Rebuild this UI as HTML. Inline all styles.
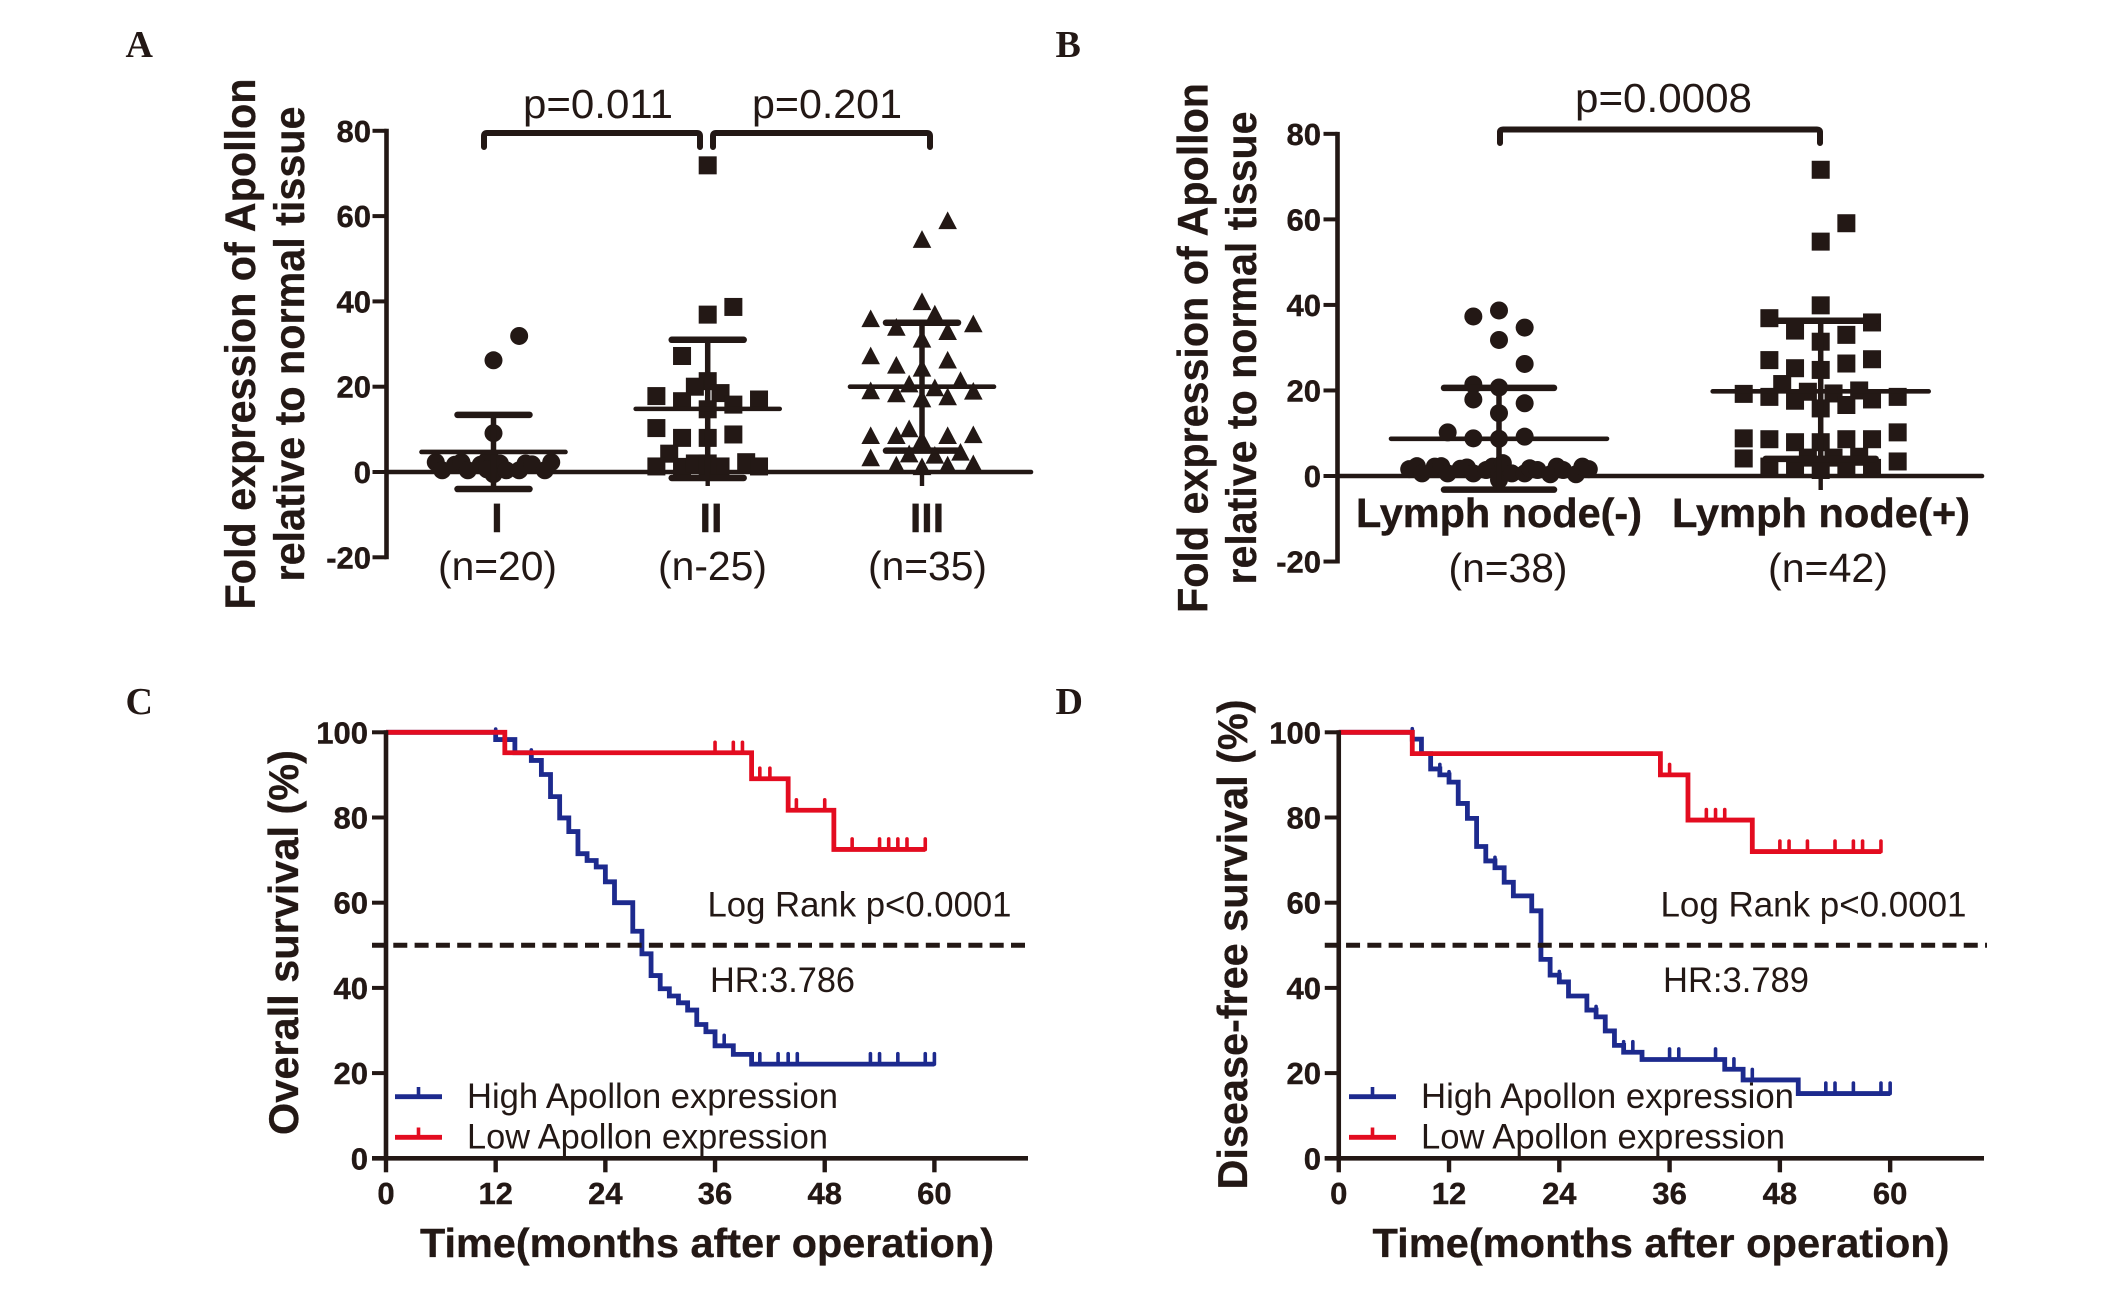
<!DOCTYPE html>
<html lang="en">
<head>
<meta charset="utf-8">
<title>Apollon expression and survival</title>
<style>
  html, body { margin: 0; padding: 0; background: #fff; }
  svg { display: block; }
  text { font-family: "Liberation Sans", Arial, sans-serif; fill: #231815; }
  .letter { font-family: "Liberation Serif", "Times New Roman", serif; font-weight: 700; font-size: 38px; }
  .title { font-weight: 700; font-size: 43px; text-anchor: middle; stroke: #231815; stroke-width: 0.3; }
  .reg { font-size: 41px; }
  .note { font-size: 35px; }
  .cat { font-weight: 700; font-size: 41px; text-anchor: middle; stroke: #231815; stroke-width: 0.4; }
  .tick { font-weight: 700; font-size: 31px; stroke: #231815; stroke-width: 0.4; }
  .bracket { fill: none; stroke: #231815; stroke-width: 6; stroke-linecap: round; stroke-linejoin: round; }
</style>
</head>
<body>
<svg id="figure" xmlns="http://www.w3.org/2000/svg" width="2126" height="1302" viewBox="0 0 2126 1302">
  <rect width="2126" height="1302" fill="#fff"/>

  <g id="panel-a">
    <text class="letter" x="125.500" y="57">A</text>
    <text class="title" transform="translate(255,344) rotate(-90)" textLength="531" lengthAdjust="spacingAndGlyphs">Fold expression of Apollon</text>
    <text class="title" transform="translate(304,344) rotate(-90)" textLength="475" lengthAdjust="spacingAndGlyphs">relative to normal tissue</text>
    <path class="bracket" d="M484,147 V136 Q484,133 487,133 H697 Q700,133 700,136 V147"/>
    <path class="bracket" d="M713,147 V136 Q713,133 716,133 H927 Q930,133 930,136 V147"/>
    <text class="reg" x="523" y="118" textLength="150" lengthAdjust="spacingAndGlyphs">p=0.011</text>
    <text class="reg" x="752" y="118" textLength="150" lengthAdjust="spacingAndGlyphs">p=0.201</text>
    <text class="cat" x="497" y="532">I</text>
    <text class="cat" x="711" y="532">II</text>
    <text class="cat" x="927" y="532">III</text>
    <text class="reg" x="438" y="580" textLength="119" lengthAdjust="spacingAndGlyphs">(n=20)</text>
    <text class="reg" x="658" y="580" textLength="109" lengthAdjust="spacingAndGlyphs">(n-25)</text>
    <text class="reg" x="868" y="580" textLength="119" lengthAdjust="spacingAndGlyphs">(n=35)</text>
  </g>

  <g id="panel-b">
    <text class="letter" x="1055.500" y="57">B</text>
    <text class="title" transform="translate(1207.5,348) rotate(-90)" textLength="530" lengthAdjust="spacingAndGlyphs">Fold expression of Apollon</text>
    <text class="title" transform="translate(1256,348) rotate(-90)" textLength="473" lengthAdjust="spacingAndGlyphs">relative to normal tissue</text>
    <path class="bracket" d="M1500,143 V132 Q1500,129.500 1503,129.500 H1817 Q1820,129.500 1820,132 V143"/>
    <text class="reg" x="1575" y="112" textLength="177" lengthAdjust="spacingAndGlyphs">p=0.0008</text>
    <text class="cat" style="text-anchor:start" x="1356" y="527" textLength="286" lengthAdjust="spacingAndGlyphs">Lymph node(-)</text>
    <text class="cat" style="text-anchor:start" x="1672" y="527" textLength="298" lengthAdjust="spacingAndGlyphs">Lymph node(+)</text>
    <text class="reg" x="1448.500" y="582" textLength="119" lengthAdjust="spacingAndGlyphs">(n=38)</text>
    <text class="reg" x="1768" y="582" textLength="120" lengthAdjust="spacingAndGlyphs">(n=42)</text>
  </g>

  <g id="panel-c">
    <text class="letter" x="125.500" y="714">C</text>
    <text class="title" style="font-size:42px" transform="translate(298,942.500) rotate(-90)" textLength="385" lengthAdjust="spacingAndGlyphs">Overall survival (%)</text>
    <text class="title" style="font-size:41px;text-anchor:start" x="420" y="1257" textLength="574" lengthAdjust="spacingAndGlyphs">Time(months after operation)</text>
  </g>

  <g id="panel-d">
    <text class="letter" x="1055.500" y="714">D</text>
    <text class="title" style="font-size:42px" transform="translate(1247,944.500) rotate(-90)" textLength="490" lengthAdjust="spacingAndGlyphs">Disease-free survival (%)</text>
    <text class="title" style="font-size:41px;text-anchor:start" x="1372.500" y="1257" textLength="577" lengthAdjust="spacingAndGlyphs">Time(months after operation)</text>
  </g>
</svg>

<script>
/* ---------- Panel A data (fold expression by stage) ---------- */
const stageTickLabels = [-20, 0, 20, 40, 60, 80];
const stageISlots = [2, 0, 0, -4.5, -4, -3, -2.5, -2, -1, -0.5, 0, 0, 0.5, 1, 2, 2.5, 3, 4, 4.5, -0.5];
const stageIValues = [31.9, 26.2, 9.1, 2.3, 0.4, 1.7, 2.3, 0.4, 1.7, 2.7, 2.4, -0.5, 2, 0.4, 0.4, 2, 1.8, 0.4, 2.3, 0.6];
const stageIISlots = [0, 2, 0, -2, 0, -1, 1, -4, -2, 4, 2, 0, -4, 2, -2, 0, -3, -4, -2, -1, 0, 1, 3, 4, 0];
const stageIIValues = [71.9, 38.7, 36.9, 27.2, 21.3, 20, 18.5, 17.8, 16.6, 17, 15.8, 14.7, 10.3, 8.8, 8, 8, 4.3, 1.3, 1.2, 2, 2, 1.3, 2.3, 1.3, 0];
const stageIIISlots = [2, 0, 0, 1, -4, 4, -2, 2, 0, -4, 2, -2, 0, 3, -1, 1, -4, 4, -2, 2, 0, -1, -4, -2, 2, 4, 0, 3, -1, 1, -4, -2, 0, 2, 4];
const stageIIIValues = [59, 54.6, 40, 37.1, 36, 34.8, 34, 33, 31.2, 27.3, 26.3, 25.1, 24.4, 21.5, 20.7, 19.8, 19.1, 19, 18.4, 17.7, 17.2, 10.2, 8.6, 8.6, 8.6, 8.8, 7.6, 4.7, 4.3, 4, 3.4, 1.7, 1.3, 1.7, 2];
const stageMeans = [4.7, 14.8, 20];
const stageUpper = [13.4, 31, 35];
const stageLower = [-4, -1.4, 5];

/* ---------- Panel B data (fold expression by lymph node status) ---------- */
const nodeTickLabels = [-20, 0, 20, 40, 60, 80];
const nodeNegSlots = [0, -2, 2, 0, 2, -2, 0, -2, 2, 0, -4, -2, 0, 2, -7, -6.4, -6, -5, -4.5, -4, -3, -2.5, -2, -1, -0.5, 0, 0.3, 0, 1, 2, 2.4, 3, 4, 4.5, 5, 6, 6.5, 7];
const nodeNegValues = [38.7, 37.3, 34.7, 31.8, 26.2, 21.4, 20.7, 17.9, 17, 14.7, 10.2, 8.8, 8.7, 9.2, 1.6, 2.3, 0.6, 2.2, 2.3, 0.6, 1.7, 2, 0.6, 1.4, 2.2, 0.6, 3, -0.9, 0.6, 0.6, 1.8, 1.4, 0.4, 2.2, 1.4, 0.4, 2.2, 1.6];
const nodePosSlots = [0, 2, 0, 0, -4, 4, -2, 2, 0, -4, 4, 2, -2, 0, -3, 3, -6, -1, 1, -4, 6, -2, 4, 2, 0, 6, -6, -4, 2, 4, 0, -2, 3, -1, 1, -6, 6, -4, -2, 0, 2, 4];
const nodePosValues = [71.6, 59.1, 54.8, 39.9, 36.9, 35.9, 34, 33, 31.4, 27.1, 27.3, 26.3, 25.2, 24.8, 21.5, 20, 19.2, 19.7, 19.3, 18.5, 18.5, 17.6, 17.9, 16.6, 15.8, 10.2, 8.8, 8.6, 8.6, 8.6, 7.9, 7.9, 4.5, 4.3, 4.3, 4.1, 3.4, 2.2, 1.9, 1.4, 1.9, 1.9];
const nodeMeans = [8.7, 19.8];
const nodeUpper = [20.6, 36.3];
const nodeLower = [-3.2, 4];

/* ---------- Survival axes ---------- */
const survivalYTicks = [0, 20, 40, 60, 80, 100];
const survivalXTicks = [0, 12, 24, 36, 48, 60];

/* ---------- Panel C data (overall survival) ---------- */
const osHighTimes = [0, 12, 14.1, 15.9, 17, 18, 19, 20, 21, 22, 23, 24, 25, 27, 28, 29, 30, 31, 32, 33, 34, 35, 36, 38, 40];
const osHighSurvival = [100, 98.3, 95.2, 93.4, 90.1, 84.9, 79.9, 76.7, 71.5, 69.9, 68.4, 64.9, 60, 53.3, 48, 42.9, 39.8, 38.1, 36.5, 34.8, 31.4, 29.7, 26.4, 24.4, 22.1];
const osHighEnd = 60;
const osHighCensored = [12, 15.9, 37, 40, 40.9, 42.9, 44, 45, 53, 54, 56, 59, 60];
const osLowTimes = [0, 13, 40, 44, 49];
const osLowSurvival = [100, 95.2, 89.1, 81.7, 72.5];
const osLowEnd = 59;
const osLowCensored = [36, 38, 39, 40.9, 42, 44.9, 48, 51, 54, 55, 56, 57, 59];

/* ---------- Panel D data (disease-free survival) ---------- */
const dfsHighTimes = [0, 8, 9, 10, 11, 12, 13, 14, 15, 16, 17, 18, 19, 21, 22, 23, 24, 25, 27, 28, 29, 30, 31, 33, 42, 44, 50];
const dfsHighSurvival = [100, 98.4, 95, 91.4, 90, 88.3, 83.3, 79.8, 73.2, 69.8, 68.2, 64.8, 61.6, 58.1, 46.7, 43, 41.4, 38.1, 34.8, 33.2, 29.9, 26.5, 24.9, 23.2, 20.9, 18.4, 15.2];
const dfsHighEnd = 60;
const dfsHighCensored = [8, 9, 10, 11, 12, 17, 24, 28, 31, 32, 36, 37, 41, 43, 45, 53, 54, 56, 59, 60];
const dfsLowTimes = [0, 8, 35, 38, 45];
const dfsLowSurvival = [100, 95, 90, 79.4, 72];
const dfsLowEnd = 59;
const dfsLowCensored = [36, 40, 41, 42, 48, 49, 51, 54, 56, 57, 59];

const INK = '#231815';
const BLUE = '#1d2a8e';
const RED = '#e30c20';
const SVGNS = 'http://www.w3.org/2000/svg';

function mk(tag, attrs, parent, text) {
  const node = document.createElementNS(SVGNS, tag);
  for (const key in attrs) node.setAttribute(key, attrs[key]);
  if (text !== undefined) node.textContent = text;
  parent.appendChild(node);
  return node;
}

function yAxis(group, tickValues, scale, xAxisPos, labelRight) {
  const axis = mk('line', { x1: xAxisPos, x2: xAxisPos, y1: scale(tickValues[0]) + 2, y2: scale(tickValues[tickValues.length - 1]) - 2, stroke: INK, 'stroke-width': 4.6 }, group);
  
  
  tickValues.forEach(function (v) {
    const tick = mk('line', { x1: xAxisPos - 14, x2: xAxisPos, y1: scale(v), y2: scale(v), stroke: INK, 'stroke-width': 4 }, group);
    
    
    const label = mk('text', { class: 'tick', x: labelRight, y: scale(v) + 11, 'text-anchor': 'end' }, group, String(v));
    
    
  });
}

function drawCircle(group, cx, cy) {
  return mk('circle', { cx: cx, cy: cy, r: 9, fill: INK }, group);
}
function drawSquare(group, cx, cy) {
  return mk('rect', { x: cx - 9, y: cy - 9, width: 18, height: 18, fill: INK }, group);
}
function drawTriangle(group, cx, cy) {
  return mk('polygon', { points: (cx - 9.3) + ',' + (cy + 8.7) + ' ' + (cx + 9.3) + ',' + (cy + 8.7) + ' ' + cx + ',' + (cy - 9) , fill: INK }, group);
}

function scatterGroup(group, scale, cx, slots, values, shape, name, mean, upper, lower, meanHalf, capHalf) {
  values.forEach(function (v, i) {
    const mark = shape(group, cx + slots[i] * 12.83, scale(v));
    
    
  });
  const whisker = mk('line', { x1: cx, x2: cx, y1: scale(upper), y2: scale(lower), stroke: INK, 'stroke-width': 5.5 }, group);
  
  
  const capTop = mk('line', { x1: cx - capHalf, x2: cx + capHalf, y1: scale(upper), y2: scale(upper), stroke: INK, 'stroke-width': 6.5, 'stroke-linecap': 'round' }, group);
  
  
  const capBottom = mk('line', { x1: cx - capHalf, x2: cx + capHalf, y1: scale(lower), y2: scale(lower), stroke: INK, 'stroke-width': 6.5, 'stroke-linecap': 'round' }, group);
  
  
  const meanLine = mk('line', { x1: cx - meanHalf, x2: cx + meanHalf, y1: scale(mean), y2: scale(mean), stroke: INK, 'stroke-width': 4.6, 'stroke-linecap': 'round' }, group);
  
  
  const tick = mk('line', { x1: cx, x2: cx, y1: scale(0), y2: scale(0) + 14, stroke: INK, 'stroke-width': 4.4 }, group);
  
  
}

/* Panel A */
const panelA = document.getElementById('panel-a');
const yA = function (v) { return 472 - v * 4.265; };
yAxis(panelA, stageTickLabels, yA, 386.5, 371);
const baselineA = mk('line', { x1: 386, x2: 1031, y1: yA(0), y2: yA(0), stroke: INK, 'stroke-width': 4.6, 'stroke-linecap': 'round' }, panelA);


scatterGroup(panelA, yA, 493.5, stageISlots, stageIValues, drawCircle, 'stage-i', stageMeans[0], stageUpper[0], stageLower[0], 72, 36);
scatterGroup(panelA, yA, 707.7, stageIISlots, stageIIValues, drawSquare, 'stage-ii', stageMeans[1], stageUpper[1], stageLower[1], 72, 36);
scatterGroup(panelA, yA, 922, stageIIISlots, stageIIIValues, drawTriangle, 'stage-iii', stageMeans[2], stageUpper[2], stageLower[2], 72, 36);

/* Panel B */
const panelB = document.getElementById('panel-b');
const yB = function (v) { return 476 - v * 4.277; };
yAxis(panelB, nodeTickLabels, yB, 1337.5, 1321);
const baselineB = mk('line', { x1: 1337, x2: 1982, y1: yB(0), y2: yB(0), stroke: INK, 'stroke-width': 4.6, 'stroke-linecap': 'round' }, panelB);


scatterGroup(panelB, yB, 1499, nodeNegSlots, nodeNegValues, drawCircle, 'lymph-node-negative', nodeMeans[0], nodeUpper[0], nodeLower[0], 108, 55);
scatterGroup(panelB, yB, 1820.7, nodePosSlots, nodePosValues, drawSquare, 'lymph-node-positive', nodeMeans[1], nodeUpper[1], nodeLower[1], 108, 55);

/* Survival panels */
function stepPath(xs, ys, times, surv, end) {
  let d = 'M' + xs(times[0]) + ',' + ys(surv[0]);
  for (let i = 1; i < times.length; i++) {
    d += ' H' + xs(times[i]) + ' V' + ys(surv[i]);
  }
  return d + ' H' + xs(end);
}
function survivalAt(times, surv, t) {
  let s = surv[0];
  for (let i = 0; i < times.length; i++) { if (times[i] <= t) s = surv[i]; }
  return s;
}
function drawCurve(group, xs, ys, times, surv, end, censored, color, name) {
  const curve = mk('path', { d: stepPath(xs, ys, times, surv, end), fill: 'none', stroke: color, 'stroke-width': 4.8, 'stroke-linejoin': 'miter' }, group);
  
  
  censored.forEach(function (t) {
    const y = ys(survivalAt(times, surv, t));
    const mark = mk('line', { x1: xs(t), x2: xs(t), y1: y, y2: y - 10.5, stroke: color, 'stroke-width': 3.6, 'stroke-linecap': 'round' }, group);
    
    
  });
}

function survivalPanel(group, x0, pxPerMonth, xEnd, labelRight, cfg) {
  const xs = function (t) { return x0 + t * pxPerMonth; };
  const ys = function (s) { return 1158.3 - s * 4.26; };

  drawCurve(group, xs, ys, cfg.highTimes, cfg.highSurv, cfg.highEnd, cfg.highCens, BLUE, 'high-apollon');
  drawCurve(group, xs, ys, cfg.lowTimes, cfg.lowSurv, cfg.lowEnd, cfg.lowCens, RED, 'low-apollon');

  yAxis(group, survivalYTicks, ys, x0, labelRight);
  const xLine = mk('line', { x1: x0 - 14, x2: xEnd, y1: ys(0), y2: ys(0), stroke: INK, 'stroke-width': 4.6 }, group);
  
  
  survivalXTicks.forEach(function (t) {
    const tick = mk('line', { x1: xs(t), x2: xs(t), y1: ys(0), y2: ys(0) + 14, stroke: INK, 'stroke-width': 4.4 }, group);
    
    
    const label = mk('text', { class: 'tick', x: xs(t), y: 1204, 'text-anchor': 'middle' }, group, String(t));
    
    
  });

  const median = mk('line', { x1: x0 - 14, x2: xEnd + 3, y1: ys(50), y2: ys(50), stroke: INK, 'stroke-width': 5, 'stroke-dasharray': '14 7.3' }, group);
  
  

  const logRank = mk('text', { class: 'note', x: cfg.noteX - 1.5, y: 916.5, textLength: cfg.logRankLen + 3, lengthAdjust: 'spacingAndGlyphs' }, group, 'Log Rank p<0.0001');
  
  
  const hr = mk('text', { class: 'note', x: cfg.noteX + 1, y: 992, textLength: cfg.hrLen + 3, lengthAdjust: 'spacingAndGlyphs' }, group, cfg.hr);
  
  

  const legendHighLine = mk('line', { x1: cfg.legendX, x2: cfg.legendX + 47, y1: 1096.7, y2: 1096.7, stroke: BLUE, 'stroke-width': 4.8 }, group);
  
  
  const legendHighTick = mk('line', { x1: cfg.legendX + 23.500, x2: cfg.legendX + 23.500, y1: 1096.7, y2: 1087, stroke: BLUE, 'stroke-width': 3.6 }, group);
  
  
  const legendHighText = mk('text', { class: 'note', x: cfg.legendX + 72, y: 1108, textLength: cfg.highLen, lengthAdjust: 'spacingAndGlyphs' }, group, 'High Apollon expression');
  
  

  const legendLowLine = mk('line', { x1: cfg.legendX, x2: cfg.legendX + 47, y1: 1137.3, y2: 1137.3, stroke: RED, 'stroke-width': 4.8 }, group);
  
  
  const legendLowTick = mk('line', { x1: cfg.legendX + 23.500, x2: cfg.legendX + 23.500, y1: 1137.3, y2: 1127.5, stroke: RED, 'stroke-width': 3.6 }, group);
  
  
  const legendLowText = mk('text', { class: 'note', x: cfg.legendX + 72, y: 1148.3, textLength: cfg.lowLen, lengthAdjust: 'spacingAndGlyphs' }, group, 'Low Apollon expression');
  
  
}

survivalPanel(document.getElementById('panel-c'), 386, 9.14, 1028, 368, {
  highTimes: osHighTimes, highSurv: osHighSurvival, highEnd: osHighEnd, highCens: osHighCensored,
  lowTimes: osLowTimes, lowSurv: osLowSurvival, lowEnd: osLowEnd, lowCens: osLowCensored,
  noteX: 709, logRankLen: 301, hrLen: 142, hr: 'HR:3.786',
  legendX: 395, highLen: 371, lowLen: 361
});
survivalPanel(document.getElementById('panel-d'), 1338.75, 9.19, 1984, 1321, {
  highTimes: dfsHighTimes, highSurv: dfsHighSurvival, highEnd: dfsHighEnd, highCens: dfsHighCensored,
  lowTimes: dfsLowTimes, lowSurv: dfsLowSurvival, lowEnd: dfsLowEnd, lowCens: dfsLowCensored,
  noteX: 1662, logRankLen: 303, hrLen: 143, hr: 'HR:3.789',
  legendX: 1349, highLen: 373, lowLen: 364
});
</script>
</body>
</html>
